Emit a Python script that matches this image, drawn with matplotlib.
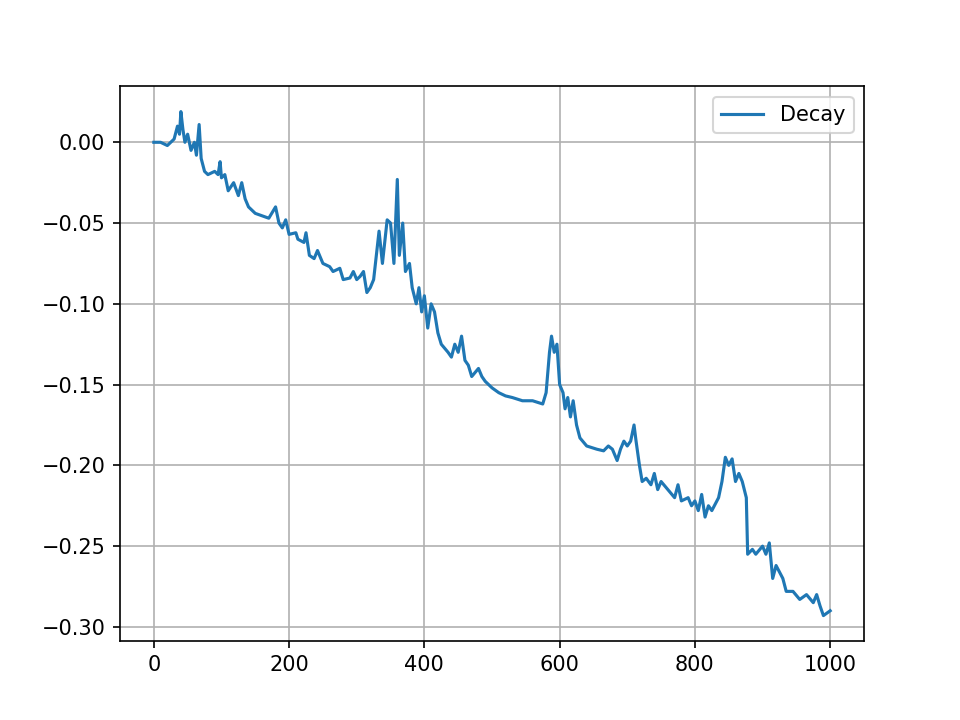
import matplotlib

matplotlib.use("Agg")
import matplotlib.pyplot as plt

# values (step, value)
steps = [0, 10, 20, 30, 35, 38, 40, 43, 46, 50, 55, 60, 63, 67, 70, 75, 80, 90, 95, 98,
         100, 105, 110, 118, 125, 130, 135, 140, 150, 170, 180, 185, 190, 195, 200, 210,
         213, 222, 225, 230, 237, 242, 250, 260, 265, 275, 280, 290, 295, 300, 305, 310,
         315, 320, 325, 333, 338, 345, 350, 355, 360, 363, 368, 372, 378, 382, 388, 392,
         396, 400, 405, 410, 415, 420, 425, 435, 440, 445, 450, 455, 460, 465, 470, 480,
         485, 490, 500, 510, 520, 530, 545, 560, 575, 580, 585, 588, 592, 596, 600, 605,
         608, 612, 616, 620, 625, 630, 640, 655, 665, 672, 678, 685, 690, 695, 700, 705,
         710, 713, 718, 722, 728, 735, 740, 745, 750, 760, 770, 775, 780, 790, 795, 800,
         805, 810, 815, 820, 825, 835, 840, 845, 850, 855, 860, 865, 870, 876, 878, 885,
         890, 900, 905, 910, 915, 920, 930, 935, 945, 955, 965, 975, 980, 985, 990, 1000]
decay = [0, 0, -0.002, 0.002, 0.01, 0.005, 0.019, 0.008, 0.0, 0.005, -0.005, 0.0, -0.008,
         0.011, -0.01, -0.018, -0.02, -0.018, -0.02, -0.012, -0.022, -0.02, -0.03, -0.025,
         -0.033, -0.025, -0.035, -0.04, -0.044, -0.047, -0.04, -0.05, -0.053, -0.048, -0.057,
         -0.056, -0.06, -0.062, -0.056, -0.07, -0.072, -0.067, -0.075, -0.077, -0.08, -0.078,
         -0.085, -0.084, -0.08, -0.085, -0.083, -0.08, -0.093, -0.09, -0.085, -0.055, -0.075,
         -0.048, -0.05, -0.075, -0.023, -0.07, -0.05, -0.08, -0.075, -0.09, -0.1, -0.09,
         -0.105, -0.095, -0.115, -0.1, -0.105, -0.118, -0.125, -0.13, -0.133, -0.125, -0.13,
         -0.12, -0.135, -0.138, -0.145, -0.14, -0.145, -0.148, -0.152, -0.155, -0.157, -0.158,
         -0.16, -0.16, -0.162, -0.155, -0.13, -0.12, -0.13, -0.125, -0.15, -0.155, -0.165,
         -0.158, -0.17, -0.16, -0.175, -0.183, -0.188, -0.19, -0.191, -0.188, -0.19, -0.197,
         -0.19, -0.185, -0.188, -0.185, -0.175, -0.185, -0.2, -0.21, -0.208, -0.212, -0.205,
         -0.215, -0.21, -0.215, -0.22, -0.212, -0.222, -0.22, -0.225, -0.222, -0.228, -0.218,
         -0.232, -0.225, -0.228, -0.22, -0.21, -0.195, -0.2, -0.196, -0.21, -0.205, -0.21,
         -0.22, -0.255, -0.252, -0.255, -0.25, -0.255, -0.248, -0.27, -0.262, -0.27, -0.278,
         -0.278, -0.283, -0.28, -0.285, -0.28, -0.287, -0.293, -0.29]

fig, ax = plt.subplots(figsize=(6.4, 4.8), dpi=150)
ax.plot(steps, decay, label="Decay")
ax.grid(True)
ax.legend(loc="upper right")
fig.savefig("out.png")
